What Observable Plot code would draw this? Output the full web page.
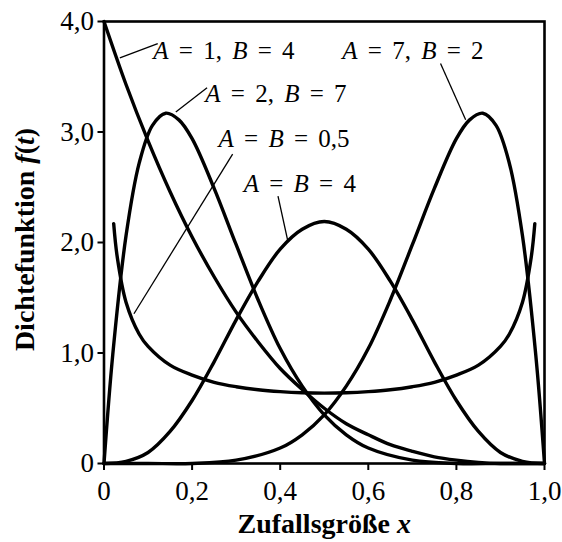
<!DOCTYPE html>
<html>
<head>
<meta charset="utf-8">
<script src="https://cdn.jsdelivr.net/npm/d3@7"></script>
<script src="https://cdn.jsdelivr.net/npm/@observablehq/plot@0.6"></script>
<style>
  html, body { margin: 0; padding: 0; background: #fff; }
  svg text { font-family: "Liberation Serif", "Times New Roman", serif; }
</style>
</head>
<body>
<div id="chart"></div>
<script>
// Beta densities f(t) for five parameter pairs
const x14 = [0, 0.05, 0.1, 0.15, 0.2, 0.25, 0.3, 0.35, 0.4, 0.45, 0.5, 0.55, 0.6, 0.65, 0.7, 0.75, 0.8, 0.85, 0.9, 0.95, 1.0];
const y14 = [4.0, 3.43, 2.92, 2.46, 2.05, 1.69, 1.37, 1.10, 0.86, 0.67, 0.50, 0.36, 0.26, 0.17, 0.11, 0.06, 0.03, 0.01, 0.0, 0.0, 0.0];

const x27 = [0, 0.02, 0.05, 0.08, 0.11, 0.14, 0.17, 0.2, 0.25, 0.3, 0.35, 0.4, 0.45, 0.5, 0.55, 0.6, 0.7, 0.8, 0.9, 1.0];
const y27 = [0, 0.99, 2.06, 2.72, 3.06, 3.17, 3.11, 2.94, 2.49, 1.98, 1.48, 1.04, 0.70, 0.44, 0.26, 0.14, 0.03, 0.0, 0.0, 0.0];

const x72 = [0, 0.1, 0.2, 0.3, 0.4, 0.45, 0.5, 0.55, 0.6, 0.65, 0.7, 0.75, 0.8, 0.83, 0.86, 0.89, 0.92, 0.95, 0.98, 1.0];
const y72 = [0, 0.0, 0.0, 0.03, 0.14, 0.26, 0.44, 0.70, 1.04, 1.48, 1.98, 2.49, 2.94, 3.11, 3.17, 3.06, 2.72, 2.06, 0.99, 0];

const x44 = [0, 0.05, 0.1, 0.15, 0.2, 0.25, 0.3, 0.35, 0.4, 0.45, 0.5, 0.55, 0.6, 0.65, 0.7, 0.75, 0.8, 0.85, 0.9, 0.95, 1.0];
const y44 = [0, 0.02, 0.10, 0.29, 0.57, 0.92, 1.30, 1.65, 1.94, 2.12, 2.19, 2.12, 1.94, 1.65, 1.30, 0.92, 0.57, 0.29, 0.10, 0.02, 0];

const x55 = [0.022, 0.03, 0.05, 0.08, 0.1, 0.15, 0.2, 0.25, 0.3, 0.35, 0.4, 0.45, 0.5, 0.55, 0.6, 0.65, 0.7, 0.75, 0.8, 0.85, 0.9, 0.92, 0.95, 0.97, 0.978];
const y55 = [2.17, 1.87, 1.46, 1.17, 1.06, 0.89, 0.80, 0.735, 0.695, 0.667, 0.65, 0.64, 0.637, 0.64, 0.65, 0.667, 0.695, 0.735, 0.80, 0.89, 1.06, 1.17, 1.46, 1.87, 2.17];

// curve labels: text, label anchor (start of text), leader line from label to curve
const labelText = ["A = 1, B = 4", "A = 2, B = 7", "A = B = 0,5", "A = B = 4", "A = 7, B = 2"];
const labelX = [0.112, 0.230, 0.260, 0.317, 0.541];
const labelY = [3.737, 3.342, 2.935, 2.528, 3.735];
const leadFromX = [0.122, 0.234, 0.292, 0.395, 0.764];
const leadFromY = [3.80, 3.40, 2.80, 2.42, 3.62];
const leadToX = [0.036, 0.163, 0.068, 0.417, 0.821];
const leadToY = [3.67, 3.18, 1.355, 2.02, 3.11];

const xTicks = [0, 0.2, 0.4, 0.6, 0.8, 1.0];
const yTicks = [0, 1, 2, 3, 4];
const xTitle = "Zufallsgröße x";
const yTitle = "Dichtefunktion f(t)";

const serif = "Liberation Serif";
const series = [[x14, y14], [x27, y27], [x72, y72], [x44, y44], [x55, y55]];
const toPoints = ([xs, ys]) => xs.map((x, i) => ({x, y: ys[i]}));

const labels = labelText.map((t, i) => ({
  text: t, x: labelX[i], y: labelY[i],
  x1: leadFromX[i], y1: leadFromY[i], x2: leadToX[i], y2: leadToY[i]
}));

const fmt = d => d === 0 ? "0" : d.toFixed(1).replace(".", ",");

const chart = Plot.plot({
  width: 562,
  height: 542,
  marginLeft: 103.5,
  marginRight: 18,
  marginTop: 21,
  marginBottom: 79,
  style: {background: "#fff", color: "#000", fontFamily: serif, fontSize: "26px"},
  x: {domain: [0, 1]},
  y: {domain: [0, 4]},
  marks: [
    Plot.axisX({ticks: xTicks, tickFormat: fmt, tickSize: 7, tickPadding: 10, strokeWidth: 2, label: null, fontSize: 27, fontFamily: serif, fontVariant: "normal"}),
    Plot.axisY({ticks: yTicks, tickFormat: fmt, tickSize: 6, tickPadding: 4, strokeWidth: 2, label: null, fontSize: 27, fontFamily: serif, fontVariant: "normal"}),
    ...series.map(s => Plot.line(toPoints(s), {x: "x", y: "y", curve: "catmull-rom", stroke: "#000", strokeWidth: 3.4})),
    Plot.link(labels, {x1: "x1", y1: "y1", x2: "x2", y2: "y2", stroke: "#000", strokeWidth: 1.3}),
    Plot.text(labels, {x: "x", y: "y", text: "text", textAnchor: "start", lineAnchor: "middle", fontSize: 25, fontFamily: serif, fill: "#000"}),
    Plot.text([xTitle], {frameAnchor: "bottom", textAnchor: "middle", lineAnchor: "middle", dy: 61, fontSize: 28, fontWeight: "bold", fontFamily: serif, fill: "#000"}),
    Plot.text([yTitle], {frameAnchor: "left", textAnchor: "middle", lineAnchor: "middle", dx: -78.5, dy: -3, rotate: -90, fontSize: 28, fontWeight: "bold", fontFamily: serif, fill: "#000"}),
    Plot.frame({stroke: "#000", strokeWidth: 2.6})
  ]
});

// Render the variable names (A, B, f, t, x) in italics
const italicParts = {
  [xTitle]: [["Zufallsgröße ", false], ["x", true]],
  [yTitle]: [["Dichtefunktion ", false], ["f", true], ["(", false], ["t", true], [")", false]]
};
d3.select(chart).selectAll("text").each(function () {
  const el = d3.select(this).style("font-family", `"${serif}", "Times New Roman", serif`);
  if (el.selectAll("tspan").size() > 0) return;
  const s = el.text();
  let parts = italicParts[s];
  if (!parts && labelText.includes(s)) {
    parts = [];
    for (const ch of s) parts.push([ch, ch === "A" || ch === "B"]);
    el.attr("word-spacing", "4px");
  }
  if (!parts) return;
  el.text(null);
  for (const [t, it] of parts) {
    el.append("tspan").attr("font-style", it ? "italic" : null).text(t);
  }
});

document.getElementById("chart").appendChild(chart);
</script>
</body>
</html>
